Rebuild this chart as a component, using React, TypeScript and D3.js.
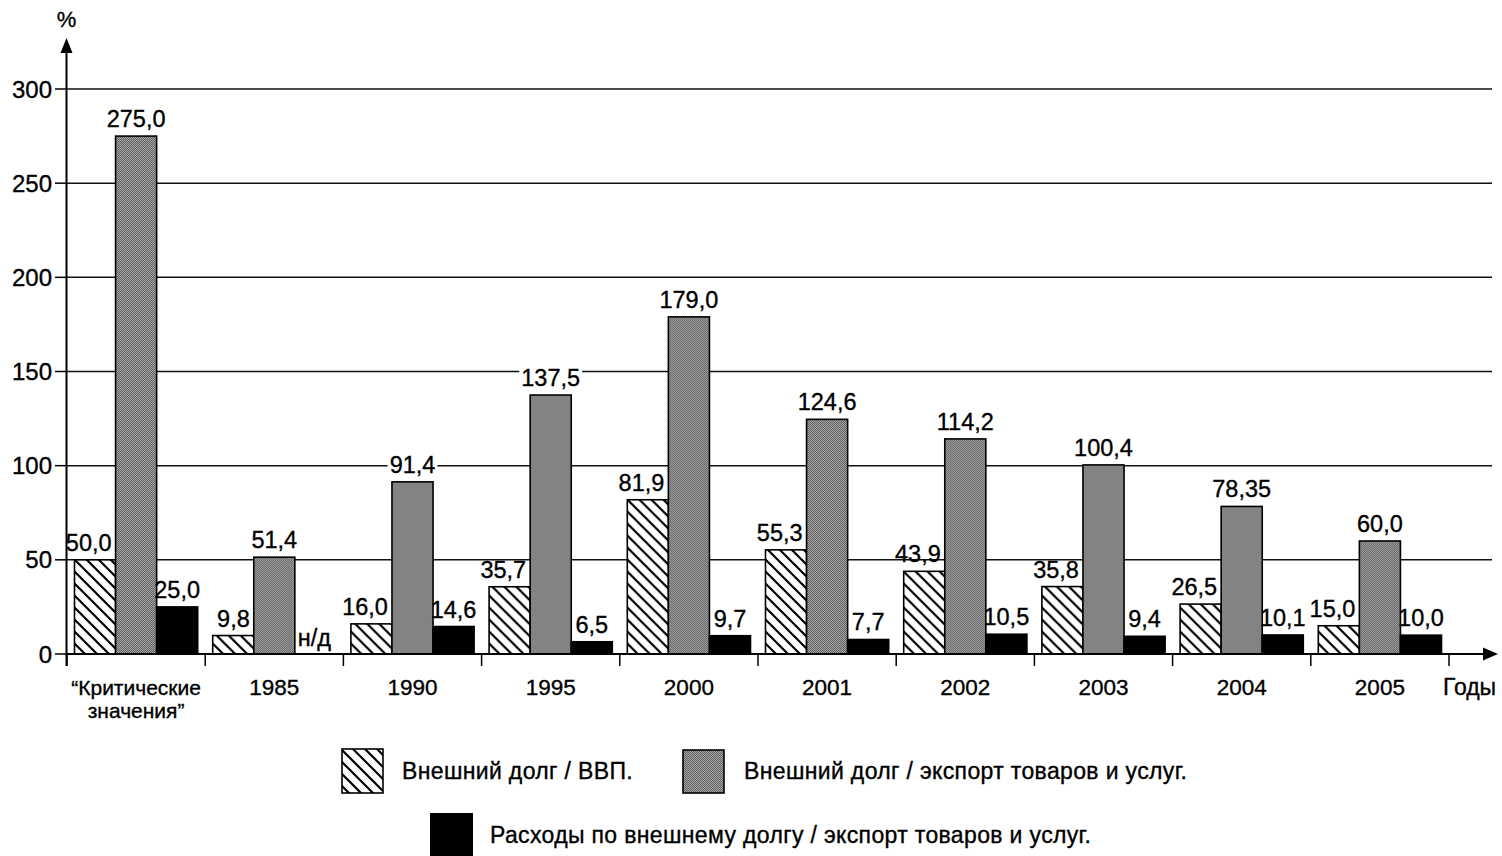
import React from "react";
import * as d3 from "d3";

const categories = ["crit", "1985", "1990", "1995", "2000", "2001", "2002", "2003", "2004", "2005"];
const categoryLabels: string[][] = [
  ["“Критические", "значения”"],
  ["1985"], ["1990"], ["1995"], ["2000"], ["2001"], ["2002"], ["2003"], ["2004"], ["2005"],
];
const debtToGdp = [50.0, 9.8, 16.0, 35.7, 81.9, 55.3, 43.9, 35.8, 26.5, 15.0];
const debtToExport = [275.0, 51.4, 91.4, 137.5, 179.0, 124.6, 114.2, 100.4, 78.35, 60.0];
const serviceToExport: (number | null)[] = [25.0, null, 14.6, 6.5, 9.7, 7.7, 10.5, 9.4, 10.1, 10.0];
const yTicks = [0, 50, 100, 150, 200, 250, 300];
const seriesNames = [
  "Внешний долг / ВВП.",
  "Внешний долг / экспорт товаров и услуг.",
  "Расходы по внешнему долгу / экспорт товаров и услуг.",
];
const naLabel = "н/д";
const xAxisTitle = "Годы";
const yAxisTitle = "%";

const fmt = (v: number) => {
  const r = Math.round(v * 10) / 10;
  const s = Math.abs(r - v) < 1e-9 ? v.toFixed(1) : String(v);
  return s.replace(".", ",");
};
const textWidth = (s: string, fs: number) =>
  s.split("").reduce((w, ch) => w + (ch === "," ? 0.278 : 0.556), 0) * fs;

export default function App() {
  const W = 1502, H = 856;
  const axisX = 66.5;
  const y0 = 654;
  const y = d3.scaleLinear().domain([0, 300]).range([y0, 89]);
  const x = d3.scaleBand<string>().domain(categories).range([67, 1449]).paddingInner(0).paddingOuter(0);
  const inner = d3.scaleBand<string>().domain(["a", "b", "c"]).range([7.5, x.bandwidth() - 7.5]).padding(0);
  const font = "'Liberation Sans', Arial, Helvetica, sans-serif";
  const gridRight = 1492;
  const tStroke = { stroke: "#000", strokeWidth: 0.35 };
  const labelFs = 23.5;

  const series = [
    { key: "a", values: debtToGdp as (number | null)[], fill: "url(#hatch)" },
    { key: "b", values: debtToExport as (number | null)[], fill: "url(#stipple)" },
    { key: "c", values: serviceToExport, fill: "#000" },
  ];

  type Lab = { x: number; y: number; text: string; anchor: "start" | "middle" | "end"; bg: boolean };
  const labels: Lab[] = [];
  categories.forEach((c, i) => {
    const gx = x(c)!;
    const bw = inner.bandwidth();
    series.forEach(s => {
      const v = s.values[i];
      const bx = gx + inner(s.key)!;
      if (v === null) {
        labels.push({ x: bx + bw / 2 - 1, y: y(0) - 8, text: naLabel, anchor: "middle", bg: false });
        return;
      }
      if (s.key === "a") {
        labels.push({ x: bx + bw - 4, y: y(v) - 9, text: fmt(v), anchor: "end", bg: false });
      } else {
        labels.push({ x: bx + bw / 2, y: y(v) - 9, text: fmt(v), anchor: "middle", bg: s.key === "b" });
      }
    });
  });

  return (
    <svg width={W} height={H} viewBox={`0 0 ${W} ${H}`}
      style={{ position: "absolute", left: 0, top: 0, background: "#fff", display: "block" }}
      fontFamily={font}>
      <defs>
        <pattern id="hatch" patternUnits="userSpaceOnUse" width={12} height={12}>
          <rect width={12} height={12} fill="#fff" />
          <path d="M-3,-3 L15,15 M-9,3 L3,15 M9,-3 L21,9" stroke="#000" strokeWidth={2.2} />
        </pattern>
        <pattern id="stipple" patternUnits="userSpaceOnUse" width={2} height={2}>
          <rect width={2} height={2} fill="#a8a8a8" />
          <rect width={1} height={1} fill="#5e5e5e" />
          <rect x={1} y={1} width={1} height={1} fill="#5e5e5e" />
        </pattern>
      </defs>
      <rect width={W} height={H} fill="#fff" />

      {/* gridlines */}
      {yTicks.filter(t => t > 0).map(t => (
        <line key={t} x1={axisX} x2={gridRight} y1={y(t)} y2={y(t)} stroke="#111" strokeWidth={1.5} />
      ))}

      {/* bars */}
      {categories.map((c, i) => (
        <g key={c} transform={`translate(${x(c)},0)`}>
          {series.map(s => {
            const v = s.values[i];
            if (v === null) return null;
            const bx = inner(s.key)!;
            const bw = inner.bandwidth();
            return (
              <rect key={s.key} x={bx} y={y(v)} width={bw} height={y0 - y(v)} fill={s.fill} stroke="#000" strokeWidth={1.6} />
            );
          })}
        </g>
      ))}

      {/* value labels */}
      {labels.map((l, k) => {
        const w = textWidth(l.text, labelFs) + 4;
        const left = l.anchor === "end" ? l.x - w + 2 : l.anchor === "middle" ? l.x - w / 2 : l.x - 2;
        return (
          <g key={k}>
            {l.bg && <rect x={left} y={l.y - 18} width={w} height={20} fill="#fff" />}
            <text x={l.x} y={l.y} textAnchor={l.anchor} fontSize={labelFs} fill="#000" {...tStroke}>{l.text}</text>
          </g>
        );
      })}

      {/* y axis */}
      <line x1={axisX} x2={axisX} y1={y0 + 12} y2={50} stroke="#000" strokeWidth={2} />
      <path d={`M${axisX},38 L${axisX - 6},53 L${axisX + 6},53 Z`} fill="#000" />
      <text x={axisX} y={27} textAnchor="middle" fontSize={22} fill="#000" {...tStroke}>{yAxisTitle}</text>
      {yTicks.map(t => (
        <g key={t}>
          <line x1={55} x2={axisX} y1={y(t)} y2={y(t)} stroke="#000" strokeWidth={1.5} />
          <text x={52} y={y(t)} dy="0.36em" textAnchor="end" fontSize={24} fill="#000" {...tStroke}>{t}</text>
        </g>
      ))}

      {/* x axis */}
      <line x1={axisX} x2={1485} y1={y0} y2={y0} stroke="#000" strokeWidth={2} />
      <path d={`M1498,${y0} L1483,${y0 - 6.5} L1483,${y0 + 6.5} Z`} fill="#000" />
      {[...categories.map(c => x(c)!), x.range()[1]].map((px, i) => (
        <line key={i} x1={px} x2={px} y1={y0} y2={y0 + 12} stroke="#000" strokeWidth={1.5} />
      ))}
      {categories.map((c, i) => (
        <text key={c} x={x(c)! + x.bandwidth() / 2} y={695} textAnchor="middle" fontSize={categoryLabels[i].length > 1 ? 21 : 22.5} fill="#000" {...tStroke}>
          {categoryLabels[i].map((l, j) => (
            <tspan key={j} x={x(c)! + x.bandwidth() / 2} dy={j === 0 ? 0 : 23}>{l}</tspan>
          ))}
        </text>
      ))}
      <text x={1443} y={695} fontSize={23} fill="#000" {...tStroke}>{xAxisTitle}</text>

      {/* legend */}
      <rect x={342} y={749} width={41} height={44} fill="url(#hatch)" stroke="#000" strokeWidth={1.6} />
      <text x={402} y={779} fontSize={23} letterSpacing={0.35} fill="#000" {...tStroke}>{seriesNames[0]}</text>
      <rect x={683} y={750} width={41} height={43} fill="url(#stipple)" stroke="#000" strokeWidth={1.6} />
      <text x={744} y={779} fontSize={23} letterSpacing={0.35} fill="#000" {...tStroke}>{seriesNames[1]}</text>
      <rect x={430} y={813} width={43} height={43} fill="#000" />
      <text x={490} y={843} fontSize={23} letterSpacing={0.35} fill="#000" {...tStroke}>{seriesNames[2]}</text>
    </svg>
  );
}
